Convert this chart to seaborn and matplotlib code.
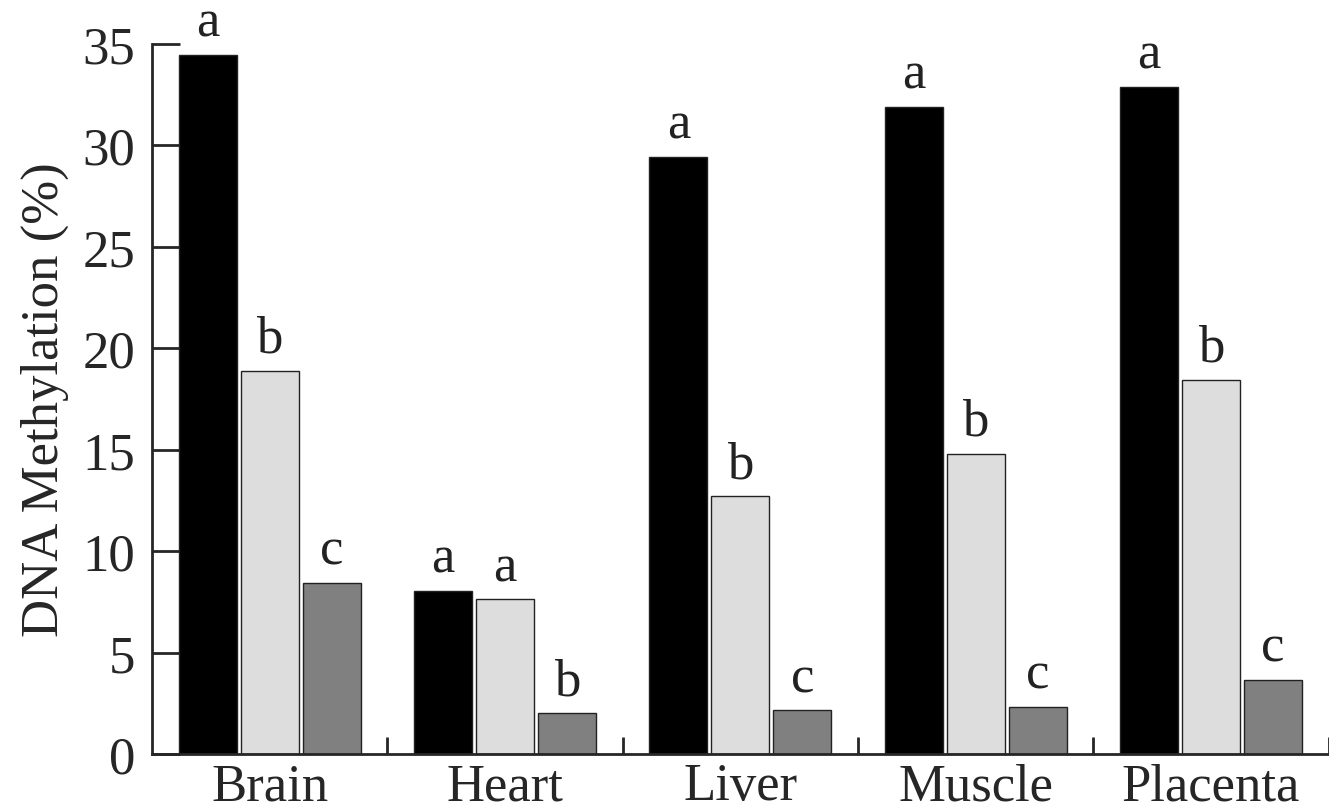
import pandas as pd
import matplotlib
matplotlib.use('Agg')
import matplotlib.pyplot as plt
import seaborn as sns

# data
tissues = ['Brain', 'Heart', 'Liver', 'Muscle', 'Placenta']
groups = ['g1', 'g2', 'g3']
g1_values = [34.45, 8.05, 29.45, 31.9, 32.9]
g2_values = [18.9, 7.62, 12.7, 14.78, 18.43]
g3_values = [8.42, 2.0, 2.15, 2.33, 3.67]
g1_letters = ['a', 'a', 'a', 'a', 'a']
g2_letters = ['b', 'a', 'b', 'b', 'b']
g3_letters = ['c', 'b', 'c', 'c', 'c']
yticks = [0, 5, 10, 15, 20, 25, 30, 35]

df = pd.DataFrame({
    'tissue': tissues * 3,
    'group': [g for g in groups for _ in tissues],
    'value': g1_values + g2_values + g3_values,
})

sns.set_style('ticks')
plt.rcParams['font.family'] = 'serif'
plt.rcParams['font.serif'] = ['Liberation Serif', 'DejaVu Serif']

fig = plt.figure(figsize=(13.29, 8.12), dpi=100)
ax = fig.add_axes([0.1144, 0.0702, 0.8853, 0.8744])

palette = ['#000000', '#dddddd', '#808080']
sns.barplot(data=df, x='tissue', y='value', hue='group', order=tissues,
            hue_order=groups, palette=palette, width=0.79, gap=0.065,
            edgecolor='#222222', linewidth=1.0, legend=False, ax=ax,
            errorbar=None)

# significance letters
for cont, labs in zip(ax.containers, [g1_letters, g2_letters, g3_letters]):
    ax.bar_label(cont, labels=labs, padding=6, fontsize=38, color='#222222')

ax.set_ylim(0, 35)
ax.set_xlim(-0.5, 4.5)
ax.set_yticks(yticks)
ax.set_yticklabels([str(t) for t in yticks])
ax.set_ylabel('DNA Methylation (%)', fontsize=38, labelpad=10)
ax.set_xlabel('')

# tick styling
ax.tick_params(axis='y', direction='in', length=20, width=2, pad=12, labelsize=38)
ax.tick_params(axis='x', which='major', length=0, pad=6, labelsize=38)
ax.set_xticks([0.5, 1.5, 2.5, 3.5, 4.5], minor=True)
ax.tick_params(axis='x', which='minor', direction='in', length=12, width=2)

sns.despine(ax=ax)
for s in ['left', 'bottom']:
    ax.spines[s].set_linewidth(2)

fig.savefig('out.png', dpi=100)
